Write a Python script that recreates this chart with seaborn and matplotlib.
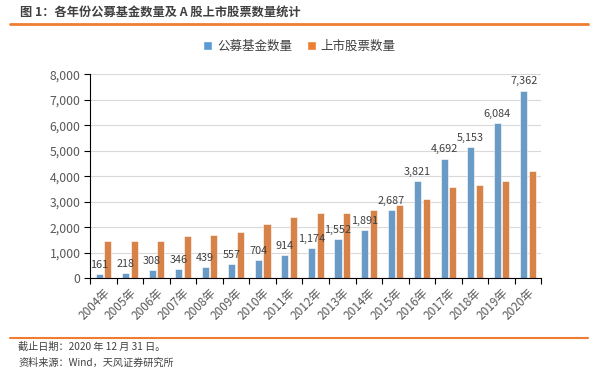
import numpy as np
import pandas as pd
import matplotlib
matplotlib.use("Agg")
import matplotlib.pyplot as plt
import seaborn as sns
from matplotlib.ticker import FuncFormatter, FixedLocator

years = ["2004年", "2005年", "2006年", "2007年", "2008年", "2009年", "2010年", "2011年",
         "2012年", "2013年", "2014年", "2015年", "2016年", "2017年", "2018年", "2019年", "2020年"]
funds = [161, 218, 308, 346, 439, 557, 704, 914, 1174, 1552, 1891, 2687, 3821, 4692, 5153, 6084, 7362]
stocks = [1460, 1460, 1480, 1640, 1710, 1810, 2140, 2410, 2570, 2550, 2680, 2890, 3120, 3570, 3660, 3830, 4210]
series_names = ["公募基金数量", "上市股票数量"]
title = "图 1：各年份公募基金数量及 A 股上市股票数量统计"
notes = ["截止日期：2020 年 12 月 31 日。", "资料来源：Wind，天风证券研究所"]

sns.set_style("white")
plt.rcParams['font.family'] = ['Noto Sans CJK SC', 'DejaVu Sans']

df = pd.DataFrame({
    "year": years * 2,
    "value": funds + stocks,
    "series": [series_names[0]] * len(years) + [series_names[1]] * len(years),
})

blue = "#5B9BD5"
orange = "#ED7D31"
fig = plt.figure(figsize=(5.93, 3.75), dpi=100)
ax = fig.add_axes([0.152, 0.258, 0.761, 0.544])

sns.barplot(data=df, x="year", y="value", hue="series", order=years, hue_order=series_names,
            palette=[blue, orange], width=0.65, gap=0.17, ax=ax, legend=False,
            edgecolor="#FFFFFF", linewidth=0.4)

ax.set_ylim(0, 8000)
ax.set_xlim(-0.5, len(years) - 0.5)
ax.set_yticks(range(0, 8001, 1000))
ax.yaxis.set_major_formatter(FuncFormatter(lambda v, p: f"{int(v):,}"))
ax.grid(axis="y", color="#D9D9D9", linewidth=0.8)
ax.set_axisbelow(True)
for s in ["top", "right"]:
    ax.spines[s].set_visible(False)
for s in ["left", "bottom"]:
    ax.spines[s].set_color("black")
    ax.spines[s].set_linewidth(0.8)
ax.set_xlabel("")
ax.set_ylabel("")
ax.tick_params(axis="y", which="major", direction="out", length=4, width=0.8, color="black",
               labelsize=8.8, labelcolor="#595959", left=True, pad=3)
ax.set_xticks(range(len(years)))
ax.set_xticklabels(years, rotation=45, ha="right", rotation_mode="anchor",
                   fontsize=8.5, color="#595959")
ax.tick_params(axis="x", which="major", length=0, pad=6)
ax.xaxis.set_minor_locator(FixedLocator(np.arange(-0.5, len(years), 1.0)))
ax.tick_params(axis="x", which="minor", direction="out", length=4, width=0.8, color="black", bottom=True)

# data labels over the fund bars
blue_bars = ax.containers[0]
for rect, v in zip(blue_bars, funds):
    ax.annotate(f"{v:,}", (rect.get_x() + rect.get_width() / 2, rect.get_height()),
                xytext=(0, 3), textcoords="offset points", ha="center", va="bottom",
                fontsize=7.8, color="#404040")

# legend
from matplotlib.patches import Patch
handles = [Patch(facecolor=blue), Patch(facecolor=orange)]
fig.legend(handles, series_names, loc="center", bbox_to_anchor=(0.505, 0.877), ncol=2,
           frameon=False, fontsize=9, handlelength=0.7, handleheight=0.7, handletextpad=0.4,
           columnspacing=1.2, labelcolor="#404040")

# title and lines
fig.text(20 / 593, 1 - 12 / 375, title, fontsize=8.8, fontweight="bold", color="#404040",
         ha="left", va="center")
fig.add_artist(plt.Line2D([10 / 593, 588 / 593], [1 - 24 / 375] * 2, color=orange, linewidth=2))
fig.add_artist(plt.Line2D([10 / 593, 588 / 593], [1 - 338 / 375] * 2, color=orange, linewidth=1.5))
fig.text(18 / 593, 1 - 347 / 375, notes[0], fontsize=7.3, color="#404040", ha="left", va="center")
fig.text(18 / 593, 1 - 363 / 375, notes[1], fontsize=7.3, color="#404040", ha="left", va="center")

fig.savefig("out.png", dpi=100)
